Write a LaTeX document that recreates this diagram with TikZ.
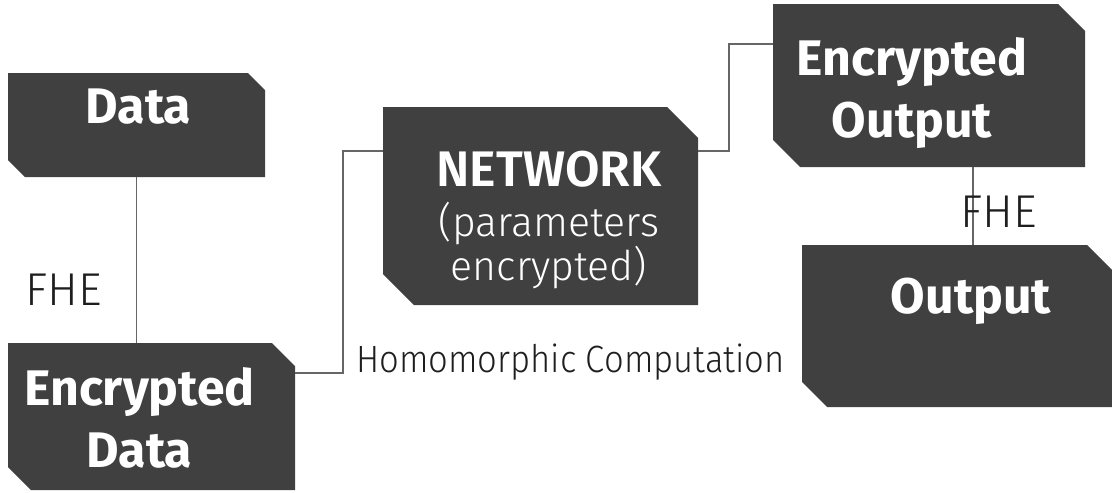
\documentclass[tikz,border=0pt]{standalone}
\usepackage{fontspec}
\setmainfont{Fira Sans}
\newfontfamily\lightfont{Fira Sans Light}
\newfontfamily\narrowfont{Fira Sans Light}[FakeStretch=0.91]
\begin{document}
\begin{tikzpicture}[x=1pt,y=-1pt,
  panel/.style={rectangle,inner sep=0pt,outer sep=0pt},
  panelfill/.style={fill=panelgray},
  paneltext/.style={text=white,inner sep=0pt,align=center,
    font=\bfseries\fontsize{50}{62}\selectfont},
  note/.style={text=notegray,inner sep=0pt,font=\lightfont\fontsize{46}{50}\selectfont},
  link/.style={draw=linegray,line width=1.2pt}]
\definecolor{panelgray}{HTML}{404040}
\definecolor{linegray}{HTML}{666666}
\definecolor{notegray}{HTML}{1E1E1E}

\useasboundingbox (0,0) rectangle (1112,493);

% panel frames (centre, size)
\node[panel,minimum width=257pt,minimum height=104pt] (data)    at (136.5,125)  {};
\node[panel,minimum width=287pt,minimum height=147pt] (encdata) at (151.5,416.5) {};
\node[panel,minimum width=315pt,minimum height=198pt] (net)     at (540.5,206)  {};
\node[panel,minimum width=312pt,minimum height=163pt] (encout)  at (929,85.5)   {};
\node[panel,minimum width=310pt,minimum height=162pt] (output)  at (957,326)    {};

% chamfered fills: cut at top right and bottom left
\foreach \p/\c in {data/17,encdata/23,net/31,encout/27,output/25}{
  \fill[panelfill] (\p.north west) -- ([xshift=-\c pt]\p.north east)
    -- ([yshift=-\c pt]\p.north east) -- (\p.south east)
    -- ([xshift=\c pt]\p.south west) -- ([yshift=\c pt]\p.south west) -- cycle;
}

% panel texts
\node[paneltext,anchor=base] (datatext) at (138.5,123) {Data};
\node[paneltext,anchor=north] (encdatatext) at (139.5,367) {Encrypted\\Data};
\node[paneltext,anchor=north,font=\lightfont\fontsize{41}{42}\selectfont] (nettext) at (549,151)
  {{\bfseries\fontsize{50}{42}\selectfont NETWORK}\\[8pt](parameters\\encrypted)};
\node[paneltext,anchor=north] (encouttext) at (912,37) {Encrypted\\Output};
\node[paneltext,anchor=base] (outputtext) at (971,313) {Output};

% connectors
\coordinate (bendA) at (343,373);
\coordinate (bendB) at (343,151);
\coordinate (bendC) at (729,151);
\coordinate (bendD) at (729,44);
\draw[link] (encdata.east |- bendA) -- (bendA) -- (bendB) -- (net.west |- bendB);
\draw[link] (net.east |- bendC) -- (bendC) -- (bendD) -- (encout.west |- bendD);
\draw[link] (data.south) -- (encdata.north -| data.south);
\coordinate (fheline) at (973,0);
\draw[link] (encout.south -| fheline) -- (output.north -| fheline);

% labels
\node[note,anchor=base] (fheA) at (64,305) {FHE};
\node[note,anchor=base] (fheB) at (999,227) {FHE};
\node[note,anchor=base,font=\narrowfont\fontsize{38}{40}\selectfont] (homo) at (570.5,372) {Homomorphic Computation};
\end{tikzpicture}
\end{document}
